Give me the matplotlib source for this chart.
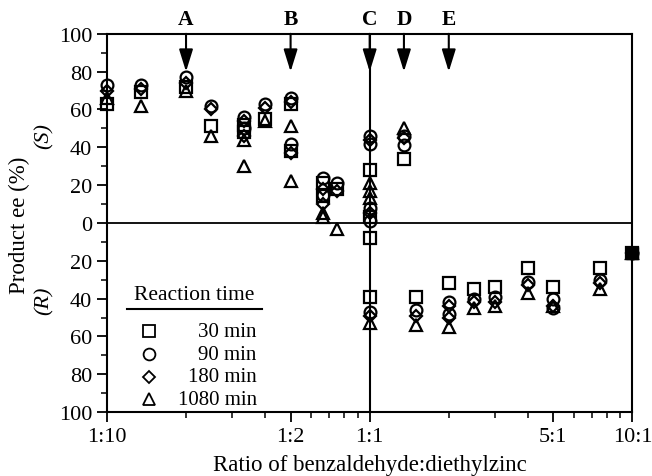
import matplotlib
matplotlib.use("Agg")
import matplotlib.pyplot as plt
import matplotlib.ticker as mt
import numpy as np

plt.rcParams['font.family'] = ['Liberation Serif', 'DejaVu Serif']
plt.rcParams['font.size'] = 15

# ratio benzaldehyde:diethylzinc (aldehyde / zinc) and product ee (%), (S) > 0, (R) < 0
x_30 = [0.1, 0.135, 0.2, 0.25, 0.333, 0.333, 0.4, 0.5, 0.5, 0.667, 0.667, 0.75, 1, 1, 1, 1, 1.35, 1.5, 2, 2.5, 3, 4, 5, 7.5, 10]
y_30 = [63, 69, 72, 51, 52, 48, 55, 63, 38, 21, 14, 18, 28, 3, -8, -39, 34, -39, -32, -35, -34, -24, -34, -24, -16]

x_90 = [0.1, 0.135, 0.2, 0.25, 0.333, 0.333, 0.4, 0.5, 0.5, 0.667, 0.667, 0.75, 1, 1, 1, 1, 1, 1.35, 1.35, 1.5, 2, 2, 2.5, 3, 4, 5, 5, 7.5, 10]
y_90 = [73, 73, 77, 62, 56, 50, 63, 66, 42, 24, 15, 21, 46, 42, 8, 1, -47, 41, 46, -46, -42, -48, -40, -39, -31, -40, -45, -30, -16]

x_180 = [0.1, 0.135, 0.2, 0.25, 0.333, 0.333, 0.4, 0.5, 0.5, 0.667, 0.667, 0.75, 1, 1, 1, 1.35, 1.5, 2, 2, 2.5, 3, 4, 5, 7.5, 10]
y_180 = [70, 71, 74, 60, 54, 46, 61, 64, 37, 18, 10, 17, 44, 5, -49, 45, -49, -44, -50, -42, -42, -33, -44, -32, -16]

x_1080 = [0.1, 0.135, 0.2, 0.25, 0.333, 0.333, 0.4, 0.5, 0.5, 0.667, 0.667, 0.75, 1, 1, 1, 1, 1.35, 1.5, 2, 2.5, 3, 4, 5, 7.5, 10]
y_1080 = [66, 62, 70, 46, 44, 30, 54, 51, 22, 5, 3, -3, 21, 17, 13, -53, 50, -54, -55, -45, -44, -37, -44, -35, -16]

times = ['30 min', '90 min', '180 min', '1080 min']
arrow_x = [0.2, 0.5, 1.0, 1.35, 2.0]
arrow_lab = ['A', 'B', 'C', 'D', 'E']
xtick_pos = [0.1, 0.5, 1, 5, 10]
xtick_lab = ['1:10', '1:2', '1:1', '5:1', '10:1']

fig = plt.figure(figsize=(6.52, 4.77), dpi=100)
ax = fig.add_axes([0.164, 0.134, 0.806, 0.793])

ax.axhline(0, color='black', lw=1.3, zorder=1)
ax.axvline(1, color='black', lw=1.5, zorder=1)

series = [(x_30, y_30, 's'), (x_90, y_90, 'o'), (x_180, y_180, 'D'), (x_1080, y_1080, '^')]
sizes = {'s': 8, 'o': 8.5, 'D': 6.5, '^': 8}
for xs, ys, m in series:
    ax.plot(xs, ys, m, ms=sizes[m], mfc='none', mec='black', mew=1.6, zorder=3, clip_on=False)
# the 10:1 point looks solid
ax.plot([x_30[-1]], [y_30[-1]], 's', ms=8, mfc='black', mec='black', zorder=4, clip_on=False)

# arrows + letters
for xa, la in zip(arrow_x, arrow_lab):
    ax.annotate('', xy=(xa, 80), xytext=(xa, 100),
                arrowprops=dict(arrowstyle='-|>,head_length=0.9,head_width=0.28', color='black', lw=1.5, shrinkA=0, shrinkB=0))
    ax.text(xa, 108, la, ha='center', va='center', fontsize=15.5, fontweight='bold', clip_on=False)

ax.set_xscale('log')
ax.set_xlim(0.1, 10)
ax.set_ylim(-100, 100)
ax.xaxis.set_major_locator(mt.FixedLocator(xtick_pos))
ax.xaxis.set_major_formatter(mt.FixedFormatter(xtick_lab))
ax.xaxis.set_minor_locator(mt.LogLocator(base=10, subs=np.arange(2, 10)))
ax.xaxis.set_minor_formatter(mt.NullFormatter())
yt = np.arange(-100, 101, 20)
ax.set_yticks(yt)
ax.set_yticklabels([str(abs(v)) for v in yt])
ax.yaxis.set_minor_locator(mt.MultipleLocator(10))
ax.tick_params(which='major', direction='out', length=7, width=1.3, labelsize=16)
ax.tick_params(which='minor', direction='out', length=4, width=1.1)
for s in ax.spines.values():
    s.set_linewidth(1.5)

ax.set_xlabel('Ratio of benzaldehyde:diethylzinc', fontsize=16.5, labelpad=6)
ax.set_ylabel('Product ee (%)', fontsize=16.5)
ax.yaxis.set_label_coords(-0.146, 0.497)
fig.text(0.068, 0.715, '(S)', rotation=90, ha='center', va='center', fontsize=16, style='italic')
fig.text(0.068, 0.37, '(R)', rotation=90, ha='center', va='center', fontsize=16, style='italic')

# legend drawn by hand
ax.text(0.166, 0.312, 'Reaction time', transform=ax.transAxes, ha='center', va='center', fontsize=15.5)
ax.plot([0.038, 0.295], [0.272, 0.272], color='black', lw=1.5, transform=ax.transAxes, clip_on=False)
ly = [0.214, 0.153, 0.093, 0.034]
for (xs, ys, m), t, yy in zip(series, times, ly):
    ax.plot([0.081], [yy], m, ms=sizes[m], mfc='none', mec='black', mew=1.3, transform=ax.transAxes)
    ax.text(0.285, yy, t, transform=ax.transAxes, ha='right', va='center', fontsize=15)

fig.savefig('out.png', dpi=100)
